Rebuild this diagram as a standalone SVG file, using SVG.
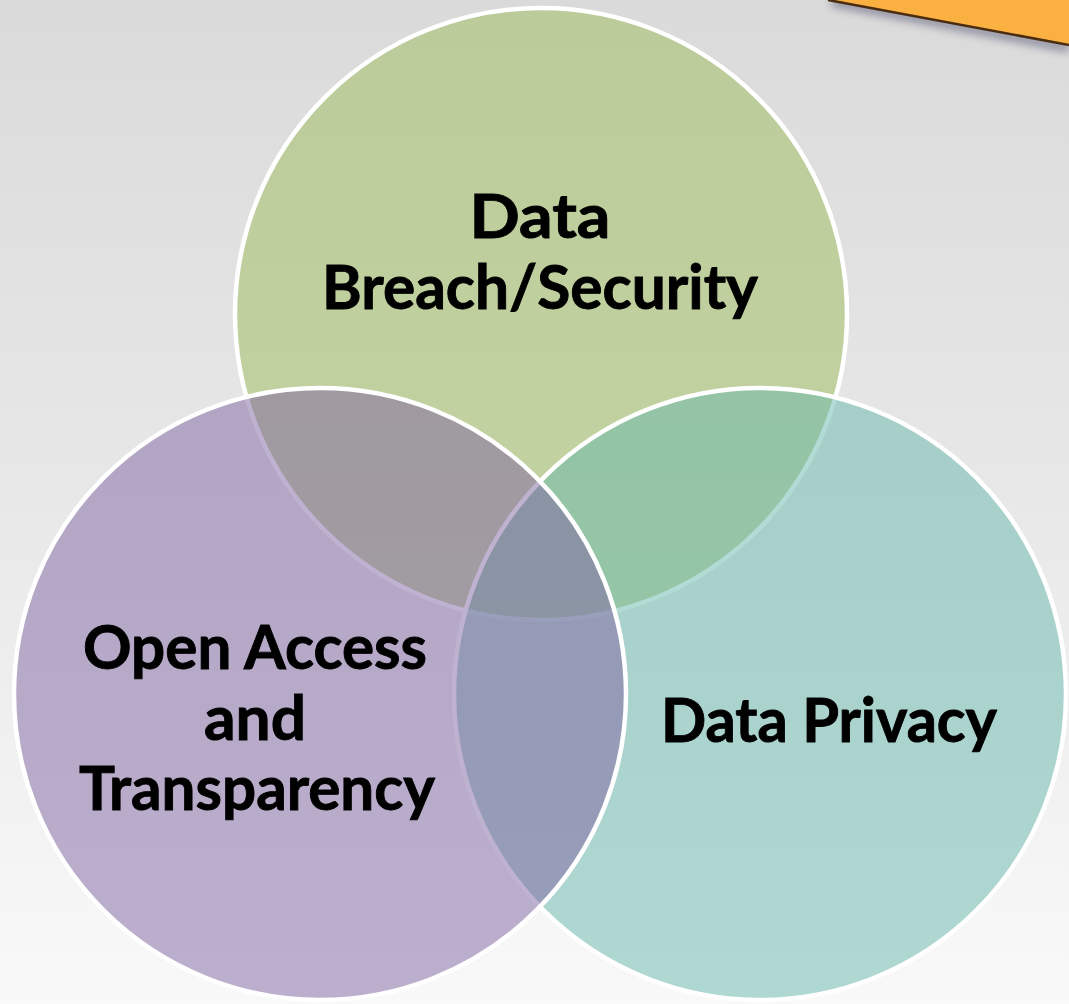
<svg xmlns="http://www.w3.org/2000/svg" width="1069" height="1004" viewBox="0 0 1069 1004">
  <defs>
    <linearGradient id="bg" x1="0" y1="0" x2="0" y2="1">
      <stop offset="0" stop-color="#dadada"/>
      <stop offset="0.5" stop-color="#e8e8e8"/>
      <stop offset="1" stop-color="#f9f9f9"/>
    </linearGradient>
    <filter id="soft" x="-20%" y="-200%" width="140%" height="500%">
      <feGaussianBlur stdDeviation="4"/>
    </filter>
    <style>
      .ring { stroke: #ffffff; stroke-width: 4.5; }
      .label { font-family: Lato, "Open Sans", "Liberation Sans", sans-serif; font-weight: 700; font-size: 61px; fill: #000000; stroke: #000000; stroke-width: 0.9; text-anchor: middle; }
    </style>
  </defs>

  <!-- backdrop -->
  <rect x="0" y="0" width="1069" height="1004" fill="url(#bg)"/>

  <!-- orange banner corner -->
  <g id="banner">
    <path d="M832,2 L1069,48" stroke="#5c5c78" stroke-width="9" fill="none" opacity="0.6" filter="url(#soft)"/>
    <path d="M828,0 L1069,0 L1069,45 Z" fill="#fbb042"/>
    <path d="M828,0 L1069,45" stroke="#4a2c10" stroke-width="2.5" fill="none"/>
  </g>

  <!-- venn circles -->
  <g id="security">
    <circle cx="541" cy="314" r="306" fill="#9bbb59" fill-opacity="0.5" class="ring"/>
  </g>
  <g id="privacy">
    <circle cx="760" cy="694" r="306" fill="#68b8ac" fill-opacity="0.5" class="ring"/>
  </g>
  <g id="openaccess">
    <circle cx="320" cy="694" r="306" fill="#8064a2" fill-opacity="0.5" class="ring"/>
  </g>

  <g id="connectors"/>

  <!-- labels -->
  <g id="security-label">
    <text class="label" x="540" y="238" textLength="141" lengthAdjust="spacingAndGlyphs">Data</text>
    <text class="label" x="540" y="309" textLength="436" lengthAdjust="spacingAndGlyphs">Breach/Security</text>
  </g>
  <g id="openaccess-label">
    <text class="label" x="255" y="669" textLength="344" lengthAdjust="spacingAndGlyphs">Open Access</text>
    <text class="label" x="255" y="740" textLength="102" lengthAdjust="spacingAndGlyphs">and</text>
    <text class="label" x="257" y="810" textLength="356" lengthAdjust="spacingAndGlyphs">Transparency</text>
  </g>
  <g id="privacy-label">
    <text class="label" x="829" y="742" textLength="336" lengthAdjust="spacingAndGlyphs">Data Privacy</text>
  </g>
</svg>
